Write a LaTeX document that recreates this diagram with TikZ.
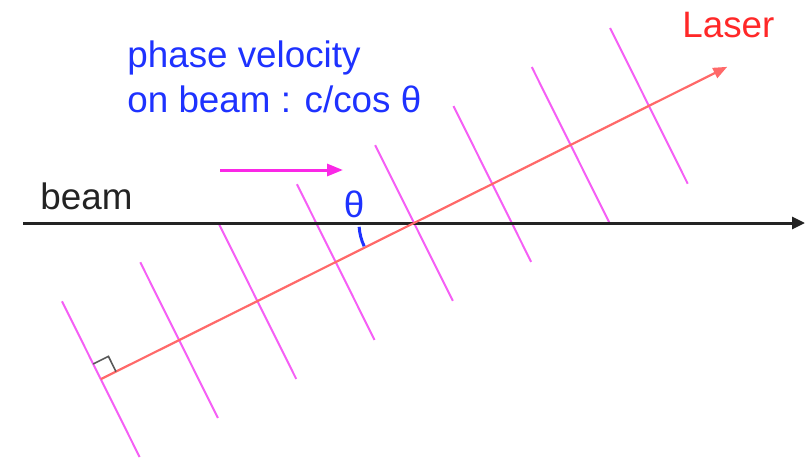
\documentclass[tikz,border=0pt]{standalone}
\usepackage{fontspec}
\setmainfont{Liberation Sans}
\usepackage{tikz}
\usetikzlibrary{arrows.meta, positioning, calc}
\definecolor{wavemag}{RGB}{245,95,245}
\definecolor{arrowmag}{RGB}{250,40,230}
\definecolor{laserred}{RGB}{255,105,105}
\definecolor{lasertext}{RGB}{255,40,40}
\definecolor{phaseblue}{RGB}{30,50,255}
\definecolor{beamgray}{RGB}{35,35,35}

\begin{document}
\begin{tikzpicture}[
    x=0.5pt, y=0.5pt,
    wave/.style={
        draw=wavemag,
        line width=1pt
    },
    laser/.style={
        draw=laserred,
        line width=1.1pt,
        -{Triangle[length=7pt, width=5.5pt]}
    },
    beamline/.style={
        draw=beamgray,
        line width=1.5pt,
        -{Triangle[length=6.5pt, width=6pt]}
    },
    txt/.style={
        font=\fontsize{18.4}{22}\selectfont,
        inner sep=0pt,
        anchor=base west
    }
]
    \useasboundingbox (0,0) rectangle (807,462);

    \coordinate (cross) at (414,239);
    \coordinate (beamstart) at (23,239);
    \coordinate (beamend) at (805,239);
    \coordinate (lstart) at ($(cross)+(206.5:350)$);
    \coordinate (lend) at ($(cross)+(26.5:350)$);

    % wave fronts
    \foreach \i in {0,...,7} {
        \pgfmathsetmacro\d{(\i-4)*87.5}
        \coordinate (wc\i) at ($(cross)+(26.5:\d)$);
        \coordinate (wtop\i) at ($(wc\i)+(116.5:87)$);
        \coordinate (wbot\i) at ($(wc\i)+(-63.5:87)$);
        \draw [wave] (wtop\i) -- (wbot\i);
    }

    \draw [beamline] (beamstart) -- (beamend);
    \draw [laser] (lstart) -- (lend);

    % right angle at the laser foot
    \draw [gray!70!black, line width=0.8pt]
        ($(lstart)+(116.5:17)$) -- ++(26.5:17) -- ++(-63.5:17);

    % angle theta
    \draw [phaseblue, line width=1.5pt]
        ($(cross)+(184:55)$) arc[start angle=184, end angle=205, radius=55];
    \node [txt, anchor=center, text=phaseblue] (theta) at (354,258) {θ};

    \coordinate (vstart) at (220,292);
    \coordinate (vend) at (343,292);
    \draw [arrowmag, line width=1.5pt, -{Triangle[length=8pt, width=6pt]}] (vstart) -- (vend);

    \node [txt, text=phaseblue] (phase) at (127,395) {phase velocity};
    \node [txt, text=phaseblue] (onbeam) at ([yshift=-22.5pt]phase.base west) {on beam : c/cos θ};
    \node [txt, text=beamgray] (beamlbl) at (40,253) {beam};
    \node [txt, text=lasertext] (laserlbl) at (682,425) {Laser};

\end{tikzpicture}
\end{document}
